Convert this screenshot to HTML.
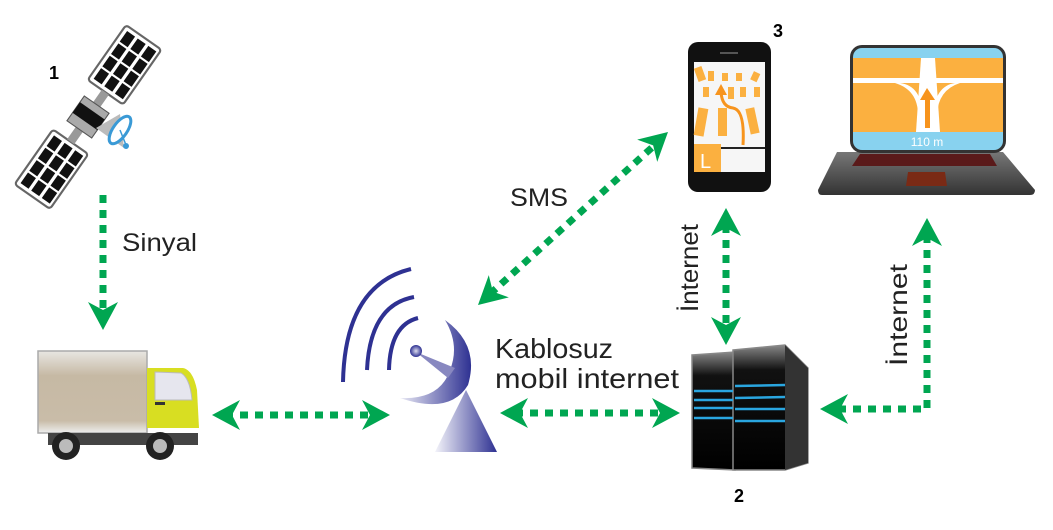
<!DOCTYPE html>
<html><head><meta charset="utf-8"><style>
html,body{margin:0;padding:0;background:#fff;}
svg{display:block;}
text{font-family:"Liberation Sans","DejaVu Sans",sans-serif;}
</style></head><body>
<svg width="1053" height="530" viewBox="0 0 1053 530" xmlns="http://www.w3.org/2000/svg">
<defs>
<linearGradient id="dish" x1="0" y1="0" x2="1" y2="0"><stop offset="0" stop-color="#e8e8f4"/><stop offset="1" stop-color="#2e3192"/></linearGradient>
<linearGradient id="tower" x1="0" y1="0" x2="1" y2="0"><stop offset="0" stop-color="#f4f4fa"/><stop offset="1" stop-color="#2e3192"/></linearGradient>
<linearGradient id="box" x1="0" y1="0" x2="0" y2="1"><stop offset="0" stop-color="#e8e6e2"/><stop offset="0.3" stop-color="#c6b9a4"/><stop offset="0.85" stop-color="#c9bca8"/><stop offset="1" stop-color="#eee"/></linearGradient>
<linearGradient id="srv" x1="0" y1="0" x2="0" y2="1"><stop offset="0" stop-color="#888"/><stop offset="0.2" stop-color="#111"/><stop offset="1" stop-color="#000"/></linearGradient>
<linearGradient id="lb" x1="0" y1="0" x2="0" y2="1"><stop offset="0" stop-color="#777"/><stop offset="1" stop-color="#333"/></linearGradient>
<radialGradient id="ball"><stop offset="0" stop-color="#dde"/><stop offset="1" stop-color="#2e3192"/></radialGradient>
<path id="ah" d="M0,0 L-28,-15 L-20,0 L-28,15 Z" fill="#00a651"/>
</defs>

<!-- Satellite -->
<g>
<g transform="translate(88,117) rotate(-55) scale(1.08)">
<rect x="-90" y="-20" width="62" height="40" rx="3" fill="#fff" stroke="#666" stroke-width="2"/>
<rect x="28" y="-20" width="62" height="40" rx="3" fill="#fff" stroke="#666" stroke-width="2"/>
<g fill="#111">
<rect x="-86" y="-16" width="12" height="9"/><rect x="-72" y="-16" width="12" height="9"/><rect x="-58" y="-16" width="12" height="9"/><rect x="-44" y="-16" width="12" height="9"/>
<rect x="-86" y="-4" width="12" height="9"/><rect x="-72" y="-4" width="12" height="9"/><rect x="-58" y="-4" width="12" height="9"/><rect x="-44" y="-4" width="12" height="9"/>
<rect x="-86" y="8" width="12" height="9"/><rect x="-72" y="8" width="12" height="9"/><rect x="-58" y="8" width="12" height="9"/><rect x="-44" y="8" width="12" height="9"/>
<rect x="32" y="-16" width="12" height="9"/><rect x="46" y="-16" width="12" height="9"/><rect x="60" y="-16" width="12" height="9"/><rect x="74" y="-16" width="12" height="9"/>
<rect x="32" y="-4" width="12" height="9"/><rect x="46" y="-4" width="12" height="9"/><rect x="60" y="-4" width="12" height="9"/><rect x="74" y="-4" width="12" height="9"/>
<rect x="32" y="8" width="12" height="9"/><rect x="46" y="8" width="12" height="9"/><rect x="60" y="8" width="12" height="9"/><rect x="74" y="8" width="12" height="9"/>
</g>
<rect x="-28" y="-4" width="56" height="8" fill="#999"/>
<rect x="-14" y="-14" width="28" height="28" fill="#aaa" stroke="#555"/>
<rect x="-5" y="-14" width="12" height="28" fill="#111"/>
</g>
<path d="M96,128 L120,114 L124,148 Z" fill="#bbb"/>
<ellipse cx="120" cy="130" rx="7" ry="16" transform="rotate(35 120 130)" fill="#fff" stroke="#3a9ad6" stroke-width="3"/>
<line x1="120" y1="130" x2="126" y2="145" stroke="#3a9ad6" stroke-width="1.5"/><circle cx="126" cy="146" r="3" fill="#3a9ad6"/>
</g>
<text x="49" y="79" font-size="18" font-weight="bold" fill="#000">1</text>

<!-- Truck -->
<g>
<rect x="38" y="351" width="109" height="82" fill="url(#box)" stroke="#aaa" stroke-width="1.5"/>
<path d="M147,368 L183,368 Q193,370 197,390 L199,428 L147,428 Z" fill="#d8de22"/>
<path d="M155,372 L181,373 Q190,378 192,400 L155,400 Z" fill="#e6e6ee" stroke="#bbb"/>
<rect x="155" y="402" width="10" height="3" fill="#333"/>
<rect x="48" y="433" width="150" height="12" fill="#444"/>
<circle cx="66" cy="446" r="14" fill="#222"/><circle cx="66" cy="446" r="7" fill="#bbb"/>
<circle cx="160" cy="446" r="14" fill="#222"/><circle cx="160" cy="446" r="7" fill="#bbb"/>
</g>

<!-- Antenna -->
<g fill="none" stroke="#2e3192" stroke-width="4">
<path d="M411,269 Q345,285 343,382"/>
<path d="M414,297 Q370,305 367,370"/>
<path d="M418,318 Q390,325 389,370"/>
</g>
<path d="M445,320 Q480,345 468,385 Q450,415 400,398 Q440,400 450,370 Q460,345 445,320 Z" fill="url(#dish)"/>
<path d="M435,452 L466,390 L497,452 Z" fill="url(#tower)"/>
<path d="M416,352 L455,368 L448,378 Z" fill="#8888c0"/>
<circle cx="416" cy="351" r="6" fill="url(#ball)"/>

<!-- Phone -->
<g>
<rect x="688" y="42" width="83" height="150" rx="10" fill="#111"/>
<rect x="694" y="62" width="71" height="110" fill="#f6f6f6"/>
<rect x="720" y="52" width="18" height="2" fill="#555"/>
<g fill="#fbb040">
<rect x="696" y="67" width="8" height="14" transform="rotate(-20 700 74)"/><rect x="708" y="71" width="6" height="10"/><rect x="722" y="73" width="6" height="8"/><rect x="736" y="73" width="6" height="8"/><rect x="752" y="72" width="7" height="9" transform="rotate(25 755 76)"/>
<rect x="703" y="87" width="6" height="10"/><rect x="728" y="87" width="6" height="12"/><rect x="740" y="87" width="6" height="10"/><rect x="754" y="87" width="6" height="10"/>
<rect x="696" y="108" width="10" height="28" transform="rotate(10 701 122)"/><rect x="718" y="108" width="9" height="28"/><rect x="748" y="108" width="9" height="26" transform="rotate(-12 752 121)"/>
<rect x="694" y="144" width="27" height="28"/>
</g>
<path d="M743,145 Q745,110 733,108 Q722,107 721,92" fill="none" stroke="#f7941d" stroke-width="3"/>
<path d="M721,84 L715,95 L727,95 Z" fill="#f7941d"/>
<rect x="721" y="147" width="44" height="2" fill="#222"/>
<text x="700" y="168" font-size="20" fill="#fff">L</text>
</g>
<text x="773" y="37" font-size="18" font-weight="bold" fill="#000">3</text>

<!-- Laptop -->
<g>
<path d="M837,152 L1003,152 L1035,190 Q1035,195 1030,195 L822,195 Q818,195 818,190 Z" fill="url(#lb)"/>
<rect x="850" y="45" width="156" height="108" rx="12" fill="#333"/>
<rect x="853" y="48" width="150" height="102" rx="9" fill="#88d2ef"/>
<rect x="853" y="58" width="150" height="74" fill="#fbb040"/>
<rect x="853" y="78" width="150" height="5" fill="#fff"/>
<path d="M921,58 L935,58 L940,132 L916,132 Z" fill="#fff"/>
<path d="M895,83 Q918,90 918,115 L922,115 Q922,86 900,83 Z M960,83 Q938,90 937,115 L933,115 Q935,86 955,83 Z" fill="#fff"/>
<rect x="925" y="98" width="5" height="30" fill="#f7941d"/><path d="M920,100 L927,88 L935,100 Z" fill="#f7941d"/>
<text x="927" y="146" font-size="12" fill="#fff" text-anchor="middle">110 m</text>
<path d="M860,154 L990,154 L997,166 L852,166 Z" fill="#5a1a1a"/>
<path d="M908,172 L945,172 L947,186 L906,186 Z" fill="#7a2a15"/>
</g>

<!-- Server -->
<g>
<path d="M692,355 L735,352 L735,470 L692,468 Z" fill="url(#srv)" stroke="#888" stroke-width="1.5"/>
<path d="M733,350 L785,345 L808,368 L808,463 L785,470 L733,470 Z" fill="url(#srv)" stroke="#888" stroke-width="1.5"/>
<path d="M785,345 L808,368 L808,463 L785,470 Z" fill="#333"/>
<g stroke="#2aa6e0" stroke-width="2.5">
<line x1="694" y1="391" x2="733" y2="391"/><line x1="694" y1="400" x2="733" y2="400"/><line x1="694" y1="408" x2="733" y2="408"/><line x1="694" y1="418" x2="733" y2="418"/>
<line x1="735" y1="386" x2="785" y2="385"/><line x1="735" y1="398" x2="785" y2="397"/><line x1="735" y1="409" x2="785" y2="409"/><line x1="735" y1="421" x2="785" y2="421"/>
</g>
</g>
<text x="734" y="502" font-size="18" font-weight="bold" fill="#000">2</text>

<!-- Arrows -->
<g stroke="#00a651" stroke-width="7" stroke-dasharray="8 7" fill="none">
<line x1="103" y1="195" x2="103" y2="310"/>
<line x1="225" y1="415" x2="375" y2="415"/>
<line x1="515" y1="413" x2="665" y2="413"/>
<line x1="490" y1="294" x2="657" y2="143"/>
<line x1="726" y1="225" x2="726" y2="330"/>
<polyline points="838,409 927,409 927,235"/>
</g>
<use href="#ah" transform="translate(103,330) rotate(90)"/>
<use href="#ah" transform="translate(212,415) rotate(180)"/>
<use href="#ah" transform="translate(390,415)"/>
<use href="#ah" transform="translate(500,413) rotate(180)"/>
<use href="#ah" transform="translate(680,413)"/>
<use href="#ah" transform="translate(478,305) rotate(138)"/>
<use href="#ah" transform="translate(668,132) rotate(-42)"/>
<use href="#ah" transform="translate(726,208) rotate(-90)"/>
<use href="#ah" transform="translate(726,345) rotate(90)"/>
<use href="#ah" transform="translate(820,409) rotate(180)"/>
<use href="#ah" transform="translate(927,218) rotate(-90)"/>

<!-- Labels -->
<text x="122" y="251" font-size="25" fill="#222" textLength="75" lengthAdjust="spacingAndGlyphs">Sinyal</text>
<text x="510" y="206" font-size="25" fill="#222" textLength="58" lengthAdjust="spacingAndGlyphs">SMS</text>
<text x="495" y="358" font-size="28" fill="#222" textLength="118" lengthAdjust="spacingAndGlyphs">Kablosuz</text>
<text x="495" y="388" font-size="28" fill="#222" textLength="184" lengthAdjust="spacingAndGlyphs">mobil internet</text>
<text transform="translate(698,312) rotate(-90)" font-size="25" fill="#222" textLength="88" lengthAdjust="spacingAndGlyphs">İnternet</text>
<text transform="translate(907,366) rotate(-90)" font-size="25" fill="#222" textLength="102" lengthAdjust="spacingAndGlyphs">İnternet</text>
</svg>
</body></html>
